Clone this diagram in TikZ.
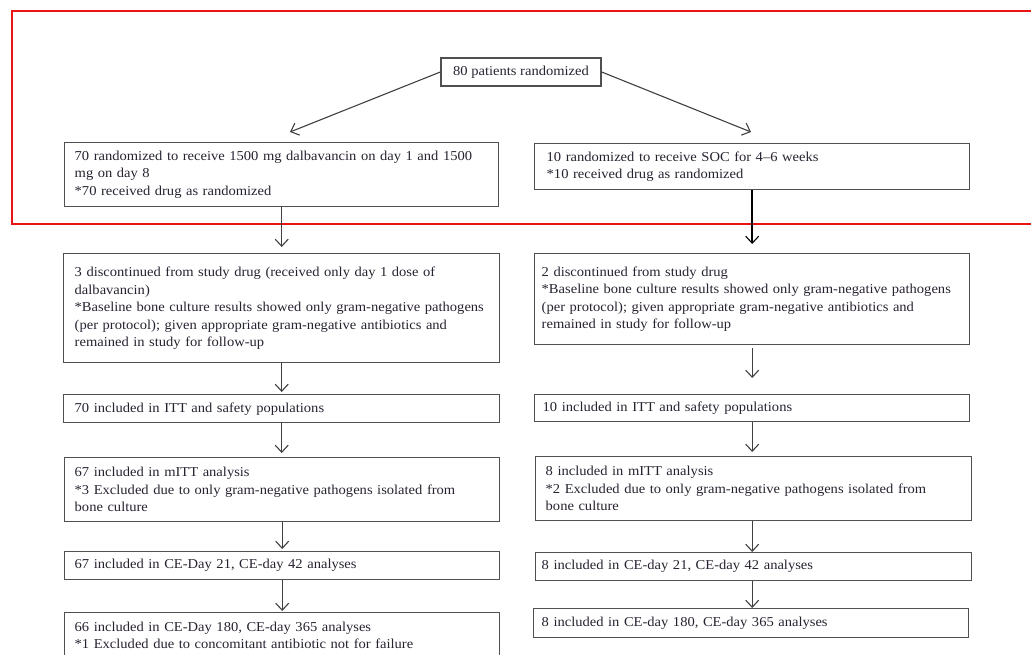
\documentclass[tikz,border=0pt]{standalone}
\usepackage{fontspec}
\setmainfont{Liberation Serif}[FakeStretch=1.07]
\usetikzlibrary{arrows.meta}
\definecolor{boxc}{RGB}{80,80,80}
\definecolor{txtc}{RGB}{40,34,48}
\definecolor{framec}{RGB}{235,20,20}
\begin{document}
\begin{tikzpicture}[x=1pt,y=-1pt,
  box/.style={draw=boxc, line width=1.4pt, anchor=north west, align=left,
    inner ysep=0pt, text=txtc, font=\fontsize{13.6}{17.5}\selectfont},
  arr/.style={draw=boxc!80!black, line width=1.1pt, -{Straight Barb[length=7pt,width=13pt,line width=1.1pt]}}]
\useasboundingbox (0,0) rectangle (1031,655);
% red frame
\draw[framec, line width=2.4pt] (12,11) rectangle (1036,224);
% top
\node[box, anchor=center, align=center, inner xsep=0pt, minimum width=160pt, minimum height=28pt] (top) at (521,72) {80 patients randomized};
% left column
\node[box, inner xsep=10pt, text width=414pt, minimum height=64pt] (A1) at (64,142)
 {70 randomized to receive 1500 mg dalbavancin on day 1 and 1500\\mg on day 8\\{}*70 received drug as randomized};
\node[box, inner xsep=11pt, text width=414pt, minimum height=109pt] (A2) at (63,253)
 {3 discontinued from study drug (received only day 1 dose of\\dalbavancin)\\{}*Baseline bone culture results showed only gram-negative pathogens\\(per protocol); given appropriate gram-negative antibiotics and\\remained in study for follow-up};
\node[box, inner xsep=11pt, text width=414pt, minimum height=28pt] (A3) at (63,394)
 {70 included in ITT and safety populations};
\node[box, inner xsep=10pt, text width=415pt, minimum height=64pt] (A4) at (64,457)
 {67 included in mITT analysis\\{}*3 Excluded due to only gram-negative pathogens isolated from\\bone culture};
\node[box, inner xsep=10pt, text width=415pt, minimum height=28pt] (A5) at (64,551)
 {67 included in CE-Day 21, CE-day 42 analyses};
\node[box, inner xsep=10pt, text width=415pt, minimum height=45pt] (A6) at (64,612)
 {66 included in CE-Day 180, CE-day 365 analyses\\{}*1 Excluded due to concomitant antibiotic not for failure};
% right column
\node[box, inner xsep=12pt, text width=411pt, minimum height=46pt] (B1) at (534,143)
 {10 randomized to receive SOC for 4--6 weeks\\{}*10 received drug as randomized};
\node[box, inner xsep=7pt, text width=421pt, minimum height=91pt] (B2) at (534,253)
 {2 discontinued from study drug\\{}*Baseline bone culture results showed only gram-negative pathogens\\(per protocol); given appropriate gram-negative antibiotics and\\remained in study for follow-up};
\node[box, inner xsep=8pt, text width=419pt, minimum height=27pt] (B3) at (534,394)
 {10 included in ITT and safety populations};
\node[box, inner xsep=10pt, text width=416pt, minimum height=64pt] (B4) at (535,456)
 {8 included in mITT analysis\\{}*2 Excluded due to only gram-negative pathogens isolated from\\bone culture};
\node[box, inner xsep=6pt, text width=424pt, minimum height=28pt] (B5) at (535,552)
 {8 included in CE-day 21, CE-day 42 analyses};
\node[box, inner xsep=8pt, text width=419pt, minimum height=29pt] (B6) at (533,608)
 {8 included in CE-day 180, CE-day 365 analyses};
% connectors
\coordinate (aL) at (290,132);
\coordinate (aR) at (751,132);
\draw[arr] (top.west) -- (aL);
\draw[arr] (top.east) -- (aR);
\draw[arr, shorten >=6pt] (A1.south) -- (A1.south |- A2.north);
\draw[arr, shorten >=2pt] (A2.south) -- (A2.south |- A3.north);
\draw[arr, shorten >=4pt] (A3.south) -- (A3.south |- A4.north);
\draw[arr, shorten >=2pt] (A4.south) -- (A4.south |- A5.north);
\draw[arr, shorten >=1pt] (A5.south) -- (A5.south |- A6.north);
\draw[arr, draw=black, line width=1.5pt, shorten >=9pt] (B1.south) -- (B1.south |- B2.north);
\draw[arr, shorten <=3pt, shorten >=16pt] (B2.south) -- (B2.south |- B3.north);
\draw[arr, shorten >=4pt] (B3.south) -- (B3.south |- B4.north);
\draw[arr] (B3.south |- B4.south) -- (B3.south |- B5.north);
\draw[arr] (B3.south |- B5.south) -- (B3.south |- B6.north);
\end{tikzpicture}
\end{document}
